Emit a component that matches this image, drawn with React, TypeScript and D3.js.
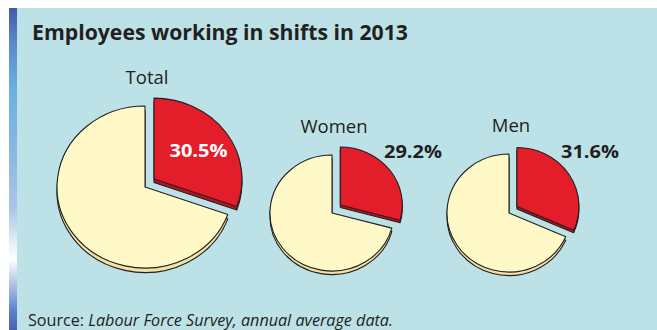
import React from "react";
import * as d3 from "d3";

// Share of employees working in shifts, 2013 (%)
const groups = ["Total", "Women", "Men"];
const shiftShare = [30.5, 29.2, 31.6];
const valueLabels = ["30.5%", "29.2%", "31.6%"];

const W = 657;
const H = 330;

// layout of each pie: centre of the main slice, elliptical radii, 3D depth, explode distance
const layout = [
  { cx: 145, cy: 187, rx: 88, ry: 81, depth: 4.5, explode: 11, labelInside: true },
  { cx: 332, cy: 213, rx: 62, ry: 58, depth: 3.5, explode: 10.5, labelInside: false },
  { cx: 509, cy: 213, rx: 62, ry: 59, depth: 3.5, explode: 9.5, labelInside: false },
];

const FONT = "'Open Sans', 'Noto Sans', sans-serif";
const RED = "#e31e2a";
const RED_SIDE = "#b5141e";
const CREAM = "#fff9c8";
const CREAM_SIDE = "#efe3a6";
const STROKE = "#231f20";

const pie = d3
  .pie<number>()
  .sort(null)
  .value((d) => d)
  .startAngle(0)
  .endAngle(2 * Math.PI);

const arc = d3
  .arc<d3.PieArcDatum<number>>()
  .innerRadius(0)
  .outerRadius(1);

function Slice({
  d,
  cx,
  cy,
  rx,
  ry,
  depth,
  fill,
  side,
}: {
  d: d3.PieArcDatum<number>;
  cx: number;
  cy: number;
  rx: number;
  ry: number;
  depth: number;
  fill: string;
  side: string;
}) {
  const p = arc(d) || "";
  return (
    <g>
      <path
        d={p}
        transform={`translate(${cx},${cy + depth}) scale(${rx},${ry})`}
        fill={side}
        stroke={STROKE}
        strokeWidth={1.1}
        strokeLinejoin="round"
        vectorEffect="non-scaling-stroke"
      />
      <path
        d={p}
        transform={`translate(${cx},${cy}) scale(${rx},${ry})`}
        fill={fill}
        stroke={STROKE}
        strokeWidth={1.1}
        strokeLinejoin="round"
        vectorEffect="non-scaling-stroke"
      />
    </g>
  );
}

export default function App() {
  return (
    <svg
      width={W}
      height={H}
      viewBox={`0 0 ${W} ${H}`}
      style={{ position: "absolute", left: 0, top: 0, display: "block" }}
    >
      <defs>
        <linearGradient id="sideBar" x1="0" y1="0" x2="0" y2="1">
          <stop offset="0" stopColor="#4658aa" />
          <stop offset="0.1" stopColor="#5a86c8" />
          <stop offset="0.25" stopColor="#6ab0e0" />
          <stop offset="0.45" stopColor="#8cb8e2" />
          <stop offset="0.62" stopColor="#aac4e6" />
          <stop offset="0.72" stopColor="#e2eaf6" />
          <stop offset="0.78" stopColor="#ffffff" />
          <stop offset="0.86" stopColor="#b0c0e2" />
          <stop offset="0.94" stopColor="#5a84cc" />
          <stop offset="1" stopColor="#4860b4" />
        </linearGradient>
      </defs>
      <rect x={0} y={0} width={W} height={H} fill="#ffffff" />
      <rect x={17} y={8} width={W - 17} height={H - 8} fill="#bce2e7" />
      <rect x={9} y={8} width={8} height={H - 8} fill="url(#sideBar)" />

      <text
        x={32}
        y={40}
        fontFamily={FONT}
        fontWeight={700}
        fontSize={21}
        fill="#231f20"
        textLength={376}
        lengthAdjust="spacingAndGlyphs"
      >
        Employees working in shifts in 2013
      </text>

      {groups.map((g, i) => {
        const L = layout[i];
        const arcs = pie([shiftShare[i], 100 - shiftShare[i]]);
        const red = arcs[0];
        const rest = arcs[1];
        const mid = (red.startAngle + red.endAngle) / 2;
        const ox = L.cx + L.explode * Math.sin(mid);
        const oy = L.cy - L.explode * Math.cos(mid) * 1.25;
        return (
          <g key={g}>
            <Slice
              d={rest}
              cx={L.cx}
              cy={L.cy}
              rx={L.rx}
              ry={L.ry}
              depth={L.depth}
              fill={CREAM}
              side={CREAM_SIDE}
            />
            <Slice
              d={red}
              cx={ox}
              cy={oy}
              rx={L.rx}
              ry={L.ry}
              depth={L.depth - 1}
              fill={RED}
              side={RED_SIDE}
            />
            <text
              x={L.cx + 2}
              y={L.cy - L.ry - 22}
              textAnchor="middle"
              fontFamily={FONT}
              fontSize={18.5}
              fill="#231f20"
            >
              {g}
            </text>
            {L.labelInside ? (
              <text
                x={L.cx + 53.5}
                y={L.cy - 30}
                textAnchor="middle"
                fontFamily={FONT}
                fontWeight={700}
                fontSize={18.5}
                fill="#ffffff"
                textLength={58}
                lengthAdjust="spacingAndGlyphs"
              >
                {valueLabels[i]}
              </text>
            ) : (
              <text
                x={L.cx + 52}
                y={L.cy - 55}
                fontFamily={FONT}
                fontWeight={700}
                fontSize={18.5}
                fill="#231f20"
                textLength={58}
                lengthAdjust="spacingAndGlyphs"
              >
                {valueLabels[i]}
              </text>
            )}
          </g>
        );
      })}

      <text
        x={28}
        y={325.5}
        fontFamily={FONT}
        fontSize={16}
        fill="#231f20"
        textLength={365}
        lengthAdjust="spacingAndGlyphs"
      >
        Source: <tspan fontStyle="italic">Labour Force Survey, annual average data.</tspan>
      </text>
    </svg>
  );
}
